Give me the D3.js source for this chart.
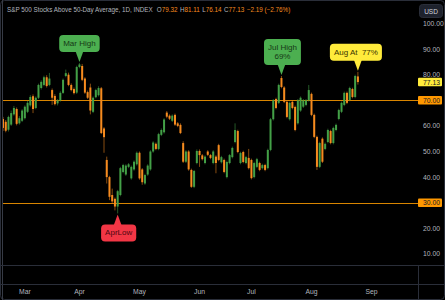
<!DOCTYPE html>
<html>
<head>
<meta charset="utf-8">
<script src="https://cdn.jsdelivr.net/npm/d3@7"></script>
<style>
  body { margin: 0; background: #000; }
  svg { display: block; font-family: "Liberation Sans", Arial, sans-serif; }
  text { white-space: pre; }
</style>
</head>
<body>
<div id="chart"></div>
<script>
// ---- data ----
const opens = [
  62.7, 61.6, 58.5, 60.5, 64.5, 66.6, 61.0, 62.0, 63.0, 65.5,
  68.0, 71.6, 67.0, 71.0, 74.8, 76.0, 79.0, 76.0, 74.0, 71.7,
  68.8, 70.0, 72.9, 79.5, 80.0, 76.0, 74.4, 73.0, 83.0, 83.4,
  78.5, 73.2, 75.0, 65.5, 71.2, 72.0, 74.7, 59.0, 46.7, 40.0,
  33.0, 31.5, 28.5, 33.0, 42.0, 41.0, 44.0, 39.5, 43.0, 45.0,
  49.5, 43.0, 37.5, 41.0, 43.0, 50.0, 53.0, 51.0, 56.5, 57.5,
  65.2, 64.0, 62.0, 64.3, 61.0, 60.4, 53.3, 46.0, 50.0, 42.8,
  36.2, 45.5, 50.2, 48.5, 45.5, 50.0, 48.6, 45.5, 48.0, 52.5,
  45.8, 46.7, 40.0, 45.5, 47.8, 53.7, 58.0, 45.5, 49.8, 45.5,
  47.5, 46.7, 40.0, 44.0, 45.5, 43.5, 44.7, 43.5, 50.6, 62.6,
  70.5, 69.0, 78.7, 75.0, 69.4, 62.6, 69.4, 67.4, 61.0, 66.0,
  67.5, 68.2, 70.0, 72.5, 64.3, 55.7, 44.0, 55.0, 51.0, 53.7,
  58.0, 53.3, 58.4, 62.7, 65.5, 68.2, 72.9, 70.1, 74.4, 71.3,
  79.32
];
const highs = [
  63.5, 62.3, 64.0, 66.0, 67.8, 67.2, 63.8, 66.5, 68.0, 69.8,
  72.0, 72.3, 71.5, 76.5, 77.8, 79.6, 79.8, 80.7, 74.6, 72.4,
  70.5, 73.5, 78.5, 82.0, 80.8, 76.6, 75.0, 83.5, 84.6, 84.2,
  79.0, 73.8, 76.5, 71.5, 74.5, 75.5, 75.2, 59.5, 48.0, 40.5,
  35.5, 32.0, 35.0, 44.0, 45.2, 45.0, 45.5, 44.5, 46.5, 50.0,
  50.0, 43.5, 41.3, 45.0, 50.5, 54.0, 53.5, 57.3, 59.0, 63.0,
  65.8, 64.5, 64.5, 64.8, 61.5, 61.0, 54.0, 50.5, 50.5, 43.3,
  42.8, 50.8, 50.8, 49.0, 48.5, 50.5, 49.0, 50.5, 48.5, 53.0,
  48.3, 47.2, 46.4, 49.0, 51.9, 61.0, 58.5, 49.9, 50.3, 48.3,
  51.0, 47.2, 46.0, 47.5, 46.0, 45.2, 45.2, 51.1, 63.1, 70.5,
  71.0, 76.5, 79.5, 75.5, 69.9, 69.5, 69.9, 67.9, 70.5, 71.5,
  70.5, 70.5, 76.0, 73.0, 64.8, 56.2, 53.8, 55.5, 53.5, 58.9,
  58.5, 59.7, 60.9, 66.7, 69.5, 73.4, 73.4, 75.3, 74.9, 80.0,
  81.11
];
const lows = [
  58.0, 57.5, 57.8, 60.0, 64.0, 60.2, 60.5, 61.5, 62.5, 65.0,
  67.5, 65.0, 66.5, 70.5, 74.2, 75.5, 75.0, 75.5, 68.2, 68.0,
  68.0, 69.5, 72.5, 79.0, 75.5, 73.5, 72.3, 72.5, 82.5, 77.5,
  72.5, 70.5, 64.5, 65.0, 70.8, 71.5, 56.8, 49.5, 37.5, 31.0,
  29.5, 27.0, 25.8, 32.5, 41.5, 40.5, 43.5, 39.0, 42.5, 44.5,
  39.0, 37.0, 37.0, 40.5, 42.5, 49.5, 50.5, 50.5, 56.0, 57.0,
  63.0, 62.3, 61.5, 60.0, 59.5, 56.8, 45.5, 45.5, 42.5, 35.8,
  35.7, 45.0, 44.0, 46.5, 45.0, 48.2, 47.0, 45.0, 41.5, 46.2,
  45.3, 41.5, 39.5, 45.0, 47.3, 53.2, 49.3, 45.0, 45.4, 45.0,
  43.0, 39.1, 39.5, 43.5, 42.3, 43.0, 42.3, 43.0, 50.1, 62.1,
  66.5, 68.5, 74.7, 68.9, 63.0, 62.1, 66.5, 57.9, 60.5, 65.5,
  67.0, 67.7, 69.5, 63.8, 55.2, 42.8, 43.5, 45.5, 50.5, 53.2,
  52.8, 52.8, 57.9, 62.2, 65.0, 67.7, 68.5, 69.6, 70.8, 70.8,
  76.14
];
const closes = [
  59.2, 58.1, 63.5, 65.0, 67.0, 60.8, 63.0, 66.0, 67.5, 69.0,
  71.3, 66.6, 71.0, 76.0, 77.2, 79.0, 75.6, 78.5, 71.0, 68.5,
  70.0, 72.9, 78.0, 80.6, 76.0, 74.0, 72.8, 83.0, 84.0, 78.0,
  73.0, 71.0, 66.0, 71.0, 74.0, 74.8, 57.2, 55.6, 40.0, 32.3,
  30.5, 28.5, 34.5, 43.5, 44.7, 44.5, 45.0, 44.0, 46.0, 49.5,
  39.5, 38.0, 40.8, 44.5, 50.0, 53.5, 51.0, 56.8, 58.4, 62.5,
  63.6, 62.8, 64.0, 60.5, 60.0, 57.2, 46.0, 50.0, 43.0, 36.2,
  42.4, 50.2, 48.6, 47.0, 48.0, 48.7, 47.5, 50.0, 45.5, 46.7,
  47.8, 42.0, 45.9, 48.6, 51.4, 58.4, 49.8, 49.4, 45.9, 47.8,
  43.5, 39.6, 45.5, 47.0, 42.8, 44.7, 42.8, 50.6, 62.6, 70.0,
  67.0, 76.0, 75.2, 69.4, 63.5, 69.0, 67.0, 58.4, 70.0, 71.0,
  70.0, 70.0, 74.0, 64.3, 55.7, 44.0, 53.3, 46.0, 53.0, 58.4,
  53.3, 59.2, 60.4, 66.2, 69.0, 72.9, 69.0, 74.8, 71.3, 79.5,
  77.13
];

const firstDay = '2024-02-20';
const holidays = ['2024-03-29', '2024-05-27', '2024-06-19', '2024-07-04', '2024-09-02'];
const totalSlots = 152;            // bars + empty space to the right
const priceTicks = [10, 20, 30, 40, 50, 60, 70, 80, 90, 100];
const levels = [70, 30];
const monthNames = ['Jan','Feb','Mar','Apr','May','Jun','Jul','Aug','Sep','Oct'];

// callouts: bar index, which end, lines of text, colour, box shift from the tip
const callouts = [
  { i: 28,  at: 'high', lines: ['Mar High'],        fill: '#4caf50', ink: '#163816', shift: 0 },
  { i: 42,  at: 'low',  lines: ['AprLow'],          fill: '#f23645', ink: '#4a0710', shift: 1 },
  { i: 102, at: 'high', lines: ['Jul High', '69%'], fill: '#4caf50', ink: '#163816', shift: 1 },
  { i: 130, at: 'high', lines: ['Aug At  77%'],     fill: '#ffeb3b', ink: '#3a3500', shift: -2 }
];

// ---- trading calendar ----
const fmt = d3.timeFormat('%Y-%m-%d');
const slots = [];
for (let d = d3.timeParse('%Y-%m-%d')(firstDay); slots.length < totalSlots; d = d3.timeDay.offset(d, 1)) {
  const wd = d.getDay();
  if (wd === 0 || wd === 6 || holidays.includes(fmt(d))) continue;
  slots.push(new Date(d));
}
const bars = closes.map((c, i) => ({ i, date: slots[i], o: opens[i], h: highs[i], l: lows[i], c }));

// ---- layout ----
const W = 445, H = 300;
const plotL = 3, plotR = 418, plotB = 265;
const step = 2.73;

const x = d3.scaleLinear().domain([0, totalSlots - 1]).range([plotL, plotL + (totalSlots - 1) * step]);
const y = d3.scaleLinear().domain([30, 70]).range([202.7, 100.3]);

const UP = '#43a047', DOWN = '#f68b1f';
const GRID = '#2a2e39', TXT = '#b2b5be';

const svg = d3.select('#chart').append('svg')
  .attr('width', W).attr('height', H)
  .style('background', '#000');

svg.append('clipPath').attr('id', 'plotclip')
  .append('rect').attr('x', plotL).attr('y', 0).attr('width', plotR - plotL).attr('height', plotB);

// frame and pane separators
svg.append('rect').attr('x', 0.5).attr('y', 0.5).attr('width', W - 1).attr('height', H - 1)
  .attr('rx', 4).attr('fill', 'none').attr('stroke', GRID);
svg.append('line').attr('x1', 2.5).attr('x2', 2.5).attr('y1', 0).attr('y2', H).attr('stroke', '#363a45');
[plotB, 284].forEach(yy => {
  svg.append('line').attr('x1', 0).attr('x2', W).attr('y1', yy + 0.5).attr('y2', yy + 0.5).attr('stroke', GRID);
});
svg.append('line').attr('x1', plotR + 0.5).attr('x2', plotR + 0.5).attr('y1', plotB).attr('y2', H).attr('stroke', GRID);

// horizontal levels
svg.append('g').selectAll('line').data(levels).join('line')
  .attr('x1', plotL).attr('x2', plotR)
  .attr('y1', d => Math.round(y(d)) + 0.5).attr('y2', d => Math.round(y(d)) + 0.5)
  .attr('stroke', '#d98500').attr('stroke-width', 1);

// candles
const gc = svg.append('g').attr('clip-path', 'url(#plotclip)');
const candle = gc.selectAll('g').data(bars).join('g');
candle.append('line')
  .attr('x1', d => x(d.i)).attr('x2', d => x(d.i))
  .attr('y1', d => y(d.h)).attr('y2', d => y(d.l))
  .attr('stroke', d => d.c >= d.o ? UP : DOWN)
  .attr('stroke-opacity', 0.55)
  .attr('stroke-width', 1);
candle.append('rect')
  .attr('x', d => x(d.i) - 1)
  .attr('width', 2)
  .attr('y', d => y(Math.max(d.o, d.c)))
  .attr('height', d => Math.max(1, Math.abs(y(d.o) - y(d.c))))
  .attr('fill', d => d.c >= d.o ? UP : DOWN);

// price axis
svg.append('g').selectAll('text').data(priceTicks).join('text')
  .attr('x', 423).attr('y', d => y(d) + 2.5)
  .attr('fill', TXT).attr('font-size', 6.8)
  .text(d => d.toFixed(2));

// level badges and last value badge
const last = bars[bars.length - 1];
const badges = levels.map(v => ({ v, fill: '#ff9800' })).concat([{ v: last.c, fill: '#ffeb3b' }]);
const gb = svg.append('g').selectAll('g').data(badges).join('g');
gb.append('rect').attr('x', 418).attr('y', d => y(d.v) - 4.3).attr('width', 24).attr('height', 8.6)
  .attr('rx', 1).attr('fill', d => d.fill);
gb.append('text').attr('x', 423).attr('y', d => y(d.v) + 2.5)
  .attr('font-size', 6.8).attr('fill', '#131722').text(d => d.v.toFixed(2));

// USD box
svg.append('rect').attr('x', 419.5).attr('y', 4.5).attr('width', 23).attr('height', 13)
  .attr('rx', 3).attr('fill', '#1e222d').attr('stroke', '#2a2e39');
svg.append('text').attr('x', 431).attr('y', 13.5).attr('text-anchor', 'middle')
  .attr('font-size', 6.5).attr('fill', '#d1d4dc').text('USD');

// month labels (first trading day of each month)
const monthStarts = slots.map((d, i) => ({ d, i }))
  .filter((s, k, arr) => k > 0 && s.d.getMonth() !== arr[k - 1].d.getMonth());
svg.append('g').selectAll('text').data(monthStarts).join('text')
  .attr('x', d => x(d.i)).attr('y', 294)
  .attr('text-anchor', 'middle').attr('font-size', 6.8).attr('fill', TXT)
  .text(d => monthNames[d.d.getMonth()]);

// title / legend line
const title = svg.append('text').attr('x', 7).attr('y', 12).attr('font-size', 6.3).attr('fill', TXT);
title.append('tspan').text('S&P 500 Stocks Above 50-Day Average, 1D, INDEX');
const chg = last.c - opens[opens.length - 1];
const ohlc = [['O', last.o], ['H', last.h], ['L', last.l], ['C', last.c]];
ohlc.forEach(([k, v], j) => {
  title.append('tspan').attr('dx', j === 0 ? 4 : 2.5).attr('fill', TXT).text(k);
  title.append('tspan').attr('fill', DOWN).text(v.toFixed(2));
});
title.append('tspan').attr('dx', 2.5).attr('fill', DOWN)
  .text(`\u2212${Math.abs(chg).toFixed(2)} (\u2212${(Math.abs(chg) / last.o * 100).toFixed(2)}%)`);

// callouts
const gca = svg.append('g');
callouts.forEach(co => {
  const b = bars[co.i];
  const tipX = x(co.i);
  const up = co.at === 'high';
  const tipY = up ? y(b.h) - 1 : y(b.l) + 1;
  const fs = 8, lh = 9, padX = 4, padY = 4;
  const tmp = gca.append('text').attr('font-size', fs).text(co.lines.reduce((a, s) => s.length > a.length ? s : a, ''));
  const tw = tmp.node().getComputedTextLength();
  tmp.remove();
  const bw = tw + padX * 2, bh = co.lines.length * lh + padY * 2;
  const gap = 10;
  const bx = tipX - bw / 2 + co.shift;
  const by = up ? tipY - gap - bh : tipY + gap;
  const g = gca.append('g');
  const baseY = up ? by + bh - 1 : by + 1;
  g.append('path')
    .attr('d', `M${tipX - 4},${baseY} L${tipX},${tipY} L${tipX + 4},${baseY} Z`)
    .attr('fill', co.fill);
  g.append('rect').attr('x', bx).attr('y', by).attr('width', bw).attr('height', bh)
    .attr('rx', 4).attr('fill', co.fill);
  co.lines.forEach((s, k) => {
    g.append('text').attr('x', bx + bw / 2).attr('y', by + padY + (k + 1) * lh - 2)
      .attr('text-anchor', 'middle').attr('font-size', fs).attr('fill', co.ink).text(s);
  });
});
</script>
</body>
</html>
